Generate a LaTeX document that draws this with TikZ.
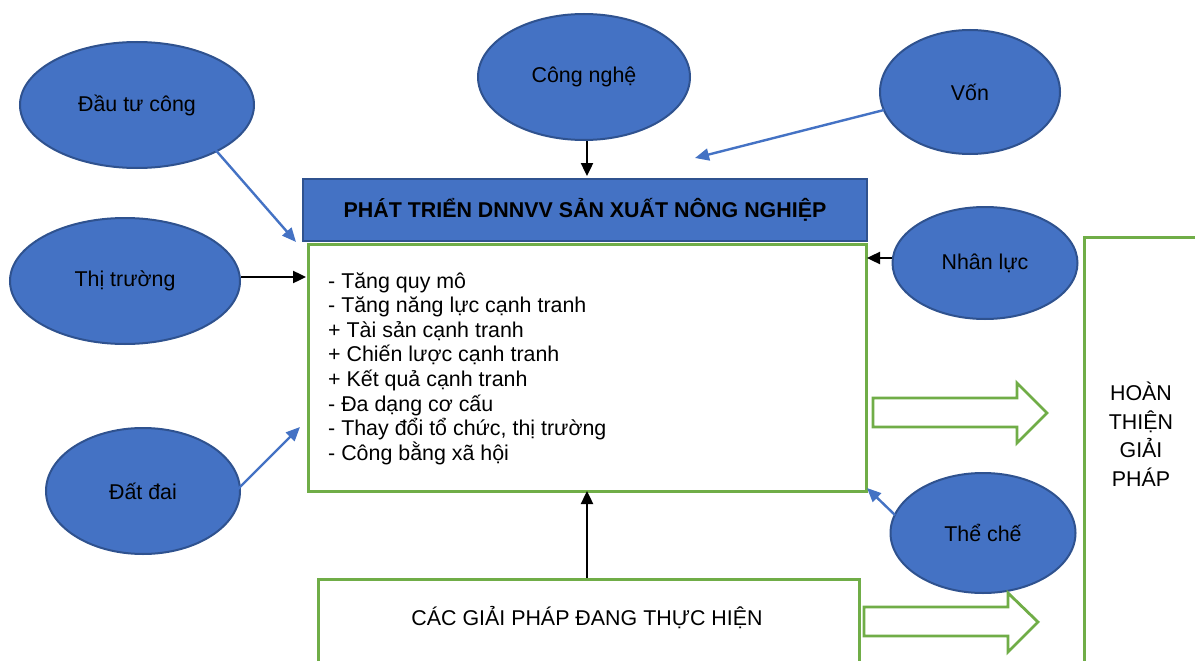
\documentclass[tikz,border=0pt]{standalone}
\usepackage{fontspec}
\setmainfont{Liberation Sans}
\usetikzlibrary{shapes.geometric,arrows.meta}
\definecolor{bfill}{HTML}{4472C4}
\definecolor{bdraw}{HTML}{2F528F}
\definecolor{gline}{HTML}{70AD47}
\begin{document}
\begin{tikzpicture}[x=1pt,y=-1pt,
  ell/.style={ellipse, draw=bdraw, fill=bfill, line width=2pt, inner sep=0pt, font=\fontsize{21.4}{25}\selectfont},
  gbox/.style={draw=gline, line width=2.6pt, fill=white},
  txt/.style={inner sep=0pt, font=\fontsize{21.4}{25}\selectfont},
  karr/.style={draw=black, line width=2.4pt, -{Triangle[length=13pt,width=12pt]}},
  barr/.style={draw=bfill, line width=2.4pt, -{Triangle[length=14pt,width=12pt]}},
  blockarr/.style={draw=gline, line width=2.8pt, fill=white, line join=miter}
]
\useasboundingbox (0,0) rectangle (1195,661);
\clip (0,0) rectangle (1195,661);
\fill[white] (0,0) rectangle (1195,661);

% boxes
\node[gbox, minimum width=558pt, minimum height=247pt, anchor=north west, inner sep=0pt] (main) at (307,243) {};
\node[draw=bdraw, fill=bfill, line width=2pt, minimum width=564pt, minimum height=62pt, anchor=north west, inner sep=0pt,
      font=\bfseries\fontsize{21.4}{25}\selectfont] (title) at (302,178) {PHÁT TRIỂN DNNVV SẢN XUẤT NÔNG NGHIỆP};
\node[gbox, minimum width=541pt, minimum height=100pt, anchor=north west, inner sep=0pt] (cur) at (317,578) {};
\node[txt] (curt) at (587,618) {CÁC GIẢI PHÁP ĐANG THỰC HIỆN};
\node[gbox, minimum width=140pt, minimum height=450pt, anchor=north west, inner sep=0pt] (fin) at (1083,236) {};
\node[txt, align=center, font=\fontsize{21.4}{28.5}\selectfont] (fint) at (1141,434) {HOÀN\\THIỆN\\GIẢI\\PHÁP};

% list text
\foreach \t [count=\i] in {{- Tăng quy mô},{- Tăng năng lực cạnh tranh},{+ Tài sản cạnh tranh},{+ Chiến lược cạnh tranh},{+ Kết quả cạnh tranh},{- Đa dạng cơ cấu},{- Thay đổi tổ chức, thị trường},{- Công bằng xã hội}}
  \node[txt, anchor=base west] (l\i) at (328,{288+24.6*(\i-1)}) {\t};

% ellipses
\node[ell, minimum width=234pt, minimum height=126pt] (dtc) at (137,105) {Đầu tư công};
\node[ell, minimum width=212pt, minimum height=126pt] (cn) at (584,77) {Công nghệ};
\node[ell, minimum width=180pt, minimum height=124pt] (von) at (970,92) {Vốn};
\node[ell, minimum width=230pt, minimum height=126pt] (tt) at (125,281) {Thị trường};
\node[ell, minimum width=185pt, minimum height=112pt] (nl) at (985,263) {Nhân lực};
\node[ell, minimum width=194pt, minimum height=126pt] (dd) at (143,491) {Đất đai};
\node[ell, minimum width=185pt, minimum height=120pt] (tc) at (983,533) {Thể chế};

% connector endpoints
\coordinate (cnE) at (587,176);
\coordinate (vonE) at (695,158);
\coordinate (dtcE) at (296,242);
\coordinate (ttE) at (306,277);
\coordinate (ddE) at (300,427);
\coordinate (nlE) at (867,258);
\coordinate (tcE) at (867,488);
\coordinate (curE) at (587,491);

\draw[karr] (cn.south -| cnE) -- (cnE);
\draw[barr] (884,110) -- (vonE);
\draw[barr] (213,147) -- (dtcE);
\draw[karr] (tt.east |- ttE) -- (ttE);
\draw[barr] (237,490) -- (ddE);
\draw[karr] (nl.west |- nlE) -- (nlE);
\draw[barr] (895,515) -- (tcE);
\draw[karr] (cur.north -| curE) -- (curE);

% block arrows
\draw[blockarr] (873,398) -- (1017,398) -- (1017,383) -- (1047,413) -- (1017,443) -- (1017,427) -- (873,427) -- cycle;
\draw[blockarr] (864,607) -- (1008,607) -- (1008,593) -- (1038,622) -- (1008,652) -- (1008,636) -- (864,636) -- cycle;
\end{tikzpicture}
\end{document}
